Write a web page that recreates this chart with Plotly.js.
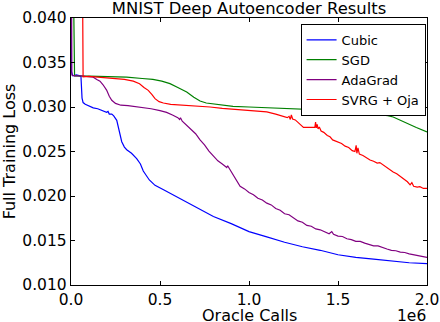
<!DOCTYPE html>
<html>
<head>
<meta charset="utf-8">
<script src="https://cdn.plot.ly/plotly-3.0.1.min.js"></script>
<style>
  body { margin: 0; background: #fff; }
  #plot { width: 440px; height: 322px; }
</style>
</head>
<body>
<div id="plot"></div>
<script>
// oracle calls, in units of 1e6
var cubicX = [0, 0.002, 0.01, 0.03, 0.05, 0.056, 0.062, 0.068, 0.08, 0.1, 0.125, 0.15, 0.175, 0.2, 0.208, 0.215, 0.229,
  0.24, 0.257, 0.27, 0.285, 0.3, 0.313, 0.34, 0.369, 0.39, 0.406, 0.44, 0.472, 0.52, 0.575, 0.63, 0.687,
  0.75, 0.8, 0.9, 1.0, 1.1, 1.2, 1.3, 1.4, 1.5, 1.6, 1.7, 1.8, 1.9, 2.0];
var cubicY = [0.06, 0.0340, 0.0335, 0.0336, 0.0335, 0.0334, 0.0310, 0.0305, 0.0303, 0.0301, 0.0299, 0.0298, 0.0296, 0.0294, 0.0295, 0.0292, 0.0292,
  0.0290, 0.0285, 0.0275, 0.0261, 0.0255, 0.0252, 0.0248, 0.0242, 0.0236, 0.0228, 0.0218, 0.0212, 0.0207, 0.0201, 0.0195, 0.0189,
  0.0182, 0.0177, 0.0169, 0.0160, 0.0154, 0.0148, 0.0143, 0.0139, 0.0134, 0.0131, 0.0129, 0.0127, 0.0125, 0.0124];

var sgdX = [0.004, 0.02, 0.1, 0.2, 0.313, 0.4, 0.46, 0.51, 0.556, 0.6, 0.65, 0.69, 0.725, 0.76, 0.8, 0.91, 1.0,
  1.1, 1.2, 1.287, 1.4, 1.5, 1.6, 1.661, 1.72, 1.78, 1.81, 1.85, 1.886, 1.94, 2.0];
var sgdY = [0.06, 0.0335, 0.03348, 0.03342, 0.03336, 0.0332, 0.0331, 0.0329, 0.03262, 0.0322, 0.03168, 0.0311, 0.03067, 0.03045, 0.03033, 0.03008, 0.0300,
  0.02993, 0.02987, 0.02982, 0.02972, 0.0296, 0.02945, 0.02933, 0.0292, 0.02903, 0.02888, 0.0285, 0.02814, 0.0277, 0.0272];

var adaX = [0, 0.005, 0.02, 0.06, 0.1, 0.125, 0.145, 0.163, 0.18, 0.2, 0.215, 0.229, 0.25, 0.28, 0.32, 0.36, 0.406, 0.45, 0.5, 0.537, 0.57,
  0.6, 0.61, 0.615, 0.625, 0.65, 0.675, 0.7, 0.725, 0.75, 0.775, 0.8, 0.825, 0.85, 0.875, 0.88, 0.9, 0.925, 0.95, 0.975,
  1.0, 1.025, 1.05, 1.075, 1.1, 1.125, 1.15, 1.175, 1.2, 1.225, 1.25, 1.275, 1.3, 1.325, 1.35, 1.375, 1.4, 1.425, 1.45, 1.465, 1.475,
  1.5, 1.525, 1.55, 1.575, 1.6, 1.625, 1.65, 1.675, 1.7, 1.725, 1.75, 1.775, 1.8, 1.825, 1.85, 1.875, 1.9, 1.925, 1.95, 1.975, 2.0];
var adaY = [0.06, 0.0336, 0.0335, 0.0335, 0.0334, 0.03335, 0.0331, 0.0329, 0.0325, 0.0319, 0.0312, 0.03075, 0.0304, 0.0302, 0.03015, 0.03005, 0.02995, 0.0298, 0.0296, 0.0294, 0.0291,
  0.0288, 0.0286, 0.0288, 0.0284, 0.02795, 0.02745, 0.0270, 0.0263, 0.02575, 0.02505, 0.0245, 0.02395, 0.0236, 0.0232, 0.0234, 0.0227, 0.02195, 0.0211, 0.0208,
  0.0204, 0.02015, 0.01975, 0.01955, 0.0192, 0.0190, 0.0186, 0.0184, 0.0180, 0.0179, 0.0175, 0.0172, 0.01705, 0.0167, 0.0166, 0.0163, 0.0162, 0.01595, 0.01575, 0.0160, 0.0157,
  0.0155, 0.01545, 0.0152, 0.0151, 0.0149, 0.0149, 0.0147, 0.01455, 0.0144, 0.0144, 0.0142, 0.01405, 0.0139, 0.01385, 0.0137, 0.01365, 0.0135, 0.0134, 0.0133, 0.01325, 0.0131];

var svrgX = [0.06, 0.068, 0.1, 0.2, 0.3, 0.35, 0.385, 0.41, 0.434, 0.455, 0.472, 0.495, 0.519, 0.56, 0.6, 0.65, 0.7, 0.781, 0.85, 0.9, 0.95,
  1.0, 1.05, 1.1, 1.15, 1.18, 1.2, 1.215, 1.225, 1.232, 1.238, 1.245, 1.26, 1.275, 1.29, 1.306, 1.37, 1.374, 1.378, 1.383, 1.388, 1.395,
  1.405, 1.42, 1.44, 1.455, 1.47, 1.49, 1.505, 1.52, 1.54, 1.56, 1.58, 1.595, 1.602, 1.606, 1.612, 1.62, 1.64, 1.66, 1.68, 1.7,
  1.72, 1.735, 1.755, 1.77, 1.79, 1.81, 1.83, 1.85, 1.87, 1.89, 1.905, 1.915, 1.925, 1.945, 1.96, 1.98, 2.0];
var svrgY = [0.06, 0.0334, 0.03345, 0.0333, 0.0331, 0.0329, 0.03262, 0.0322, 0.03187, 0.0314, 0.03094, 0.0306, 0.03045, 0.0303, 0.03025, 0.0302, 0.03012, 0.0300, 0.02985, 0.02978, 0.0297,
  0.02965, 0.02955, 0.02945, 0.0292, 0.02905, 0.02895, 0.0288, 0.02895, 0.0286, 0.0291, 0.02865, 0.02855, 0.0283, 0.0280, 0.0277, 0.02772, 0.0283, 0.02765, 0.02805, 0.02755, 0.02775,
  0.0273, 0.02715, 0.0268, 0.02665, 0.0263, 0.02615, 0.02595, 0.0259, 0.0256, 0.02545, 0.0251, 0.0250, 0.0257, 0.0248, 0.0254, 0.0247, 0.02455, 0.02425, 0.02405, 0.0239,
  0.0237, 0.02375, 0.02345, 0.0232, 0.0230, 0.0227, 0.0225, 0.0222, 0.02195, 0.0216, 0.02125, 0.0215, 0.0211, 0.0210, 0.02105, 0.02085, 0.02085];

var seriesNames = ['Cubic', 'SGD', 'AdaGrad', 'SVRG + Oja'];
var seriesColors = ['#0000ff', '#008000', '#800080', '#ff0000'];
var xs = [cubicX, sgdX, adaX, svrgX];
var ys = [cubicY, sgdY, adaY, svrgY];

var font = 'DejaVu Sans, sans-serif';

var data = [];
for (var i = 0; i < xs.length; i++) {
  data.push({
    x: xs[i],
    y: ys[i],
    name: seriesNames[i],
    type: 'scatter',
    mode: 'lines',
    line: {color: seriesColors[i], width: 1.2}
  });
}

var layout = {
  width: 440,
  height: 322,
  margin: {l: 71, r: 13, t: 18, b: 37},
  paper_bgcolor: '#fff',
  plot_bgcolor: '#fff',
  font: {family: font, size: 15.5, color: '#000'},
  title: {
    text: 'MNIST Deep Autoencoder Results',
    font: {family: font, size: 16.4, color: '#000'},
    x: 0.566, xanchor: 'center',
    y: 0.973, yanchor: 'middle', yref: 'container'
  },
  showlegend: true,
  legend: {
    x: 0.996, xanchor: 'right',
    y: 0.978, yanchor: 'top',
    bgcolor: '#fff',
    bordercolor: '#000',
    borderwidth: 1,
    itemwidth: 30,
    font: {family: font, size: 13, color: '#000'},
    tracegroupgap: 0
  },
  xaxis: {
    range: [0, 2],
    tickvals: [0, 0.5, 1, 1.5, 2],
    tickformat: '.1f',
    ticks: 'inside', ticklen: 4, tickcolor: '#000',
    showline: true, linecolor: '#000', linewidth: 1.2, mirror: 'ticks',
    showgrid: false, zeroline: false
  },
  yaxis: {
    range: [0.010, 0.040],
    tickvals: [0.010, 0.015, 0.020, 0.025, 0.030, 0.035, 0.040],
    tickformat: '.3f',
    ticks: 'inside', ticklen: 4, tickcolor: '#000',
    showline: true, linecolor: '#000', linewidth: 1.2, mirror: 'ticks',
    showgrid: false, zeroline: false,
    title: {text: 'Full Training Loss', font: {family: font, size: 16}, standoff: 6}
  },
  annotations: [{
    text: 'Oracle Calls',
    xref: 'paper', yref: 'paper',
    x: 0.5, y: -0.115, xanchor: 'center', yanchor: 'middle',
    showarrow: false, borderpad: 0,
    font: {family: font, size: 16, color: '#000'}
  }, {
    text: '1e6',
    xref: 'paper', yref: 'paper',
    x: 1, y: -0.115, xanchor: 'right', yanchor: 'middle',
    showarrow: false, borderpad: 0,
    font: {family: font, size: 15.5, color: '#000'}
  }]
};

Plotly.newPlot('plot', data, layout, {staticPlot: true});
</script>
</body>
</html>
